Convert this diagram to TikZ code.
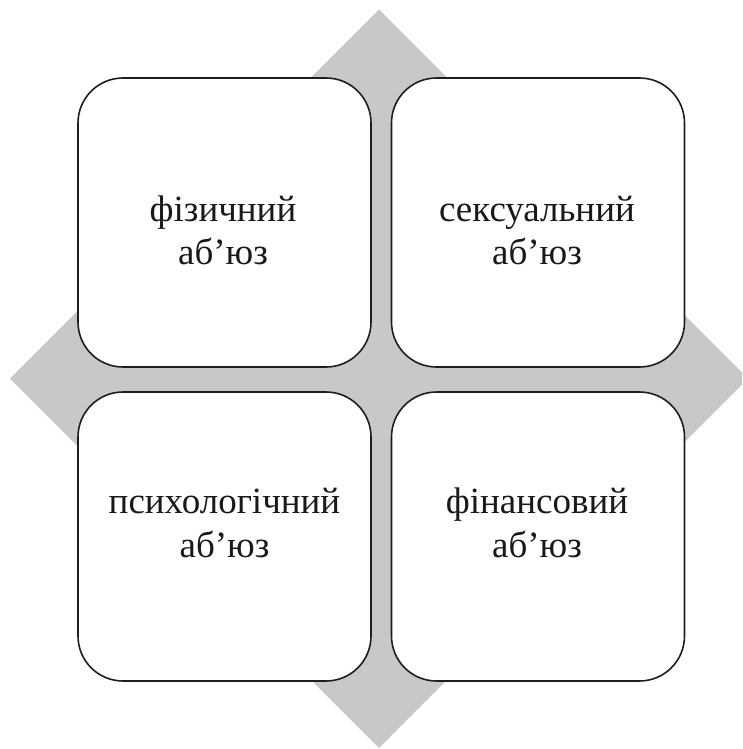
\documentclass[tikz,border=0pt]{standalone}
\usepackage{fontspec}
\setmainfont{Liberation Serif}
\definecolor{diamondgray}{HTML}{C8C8C8}
\definecolor{edgeblack}{HTML}{1E1E1E}
\tikzset{
  quadbox/.style={draw=edgeblack, line width=1.6pt, fill=white, rounded corners=45pt,
    minimum width=293pt, minimum height=289pt, inner sep=0pt},
  linetext/.style={anchor=base, inner sep=0pt, text=black!90,
    font=\fontsize{37}{44}\selectfont},
  diamondfill/.style={fill=diamondgray, draw=none}
}
\begin{document}
\begin{tikzpicture}[x=1pt,y=-1pt]
\useasboundingbox (0,0) rectangle (742,749);
\clip (0,0) rectangle (742,749);
\fill[diamondfill] (379,9.5) -- (748,378.5) -- (379,748) -- (10,378.5) -- cycle;
\node[quadbox] (tl) at (224.5,222.5) {};
\node[quadbox] (tr) at (538,222.5) {};
\node[quadbox] (bl) at (224.5,536.5) {};
\node[quadbox] (br) at (538,536.5) {};
\node[linetext] (tla) at (223,221.5) {фізичний};
\node[linetext] (tlb) at (223,264.5) {аб’юз};
\node[linetext] (tra) at (537,221.5) {сексуальний};
\node[linetext] (trb) at (537,264.5) {аб’юз};
\node[linetext] (bla) at (224.5,513.5) {психологічний};
\node[linetext] (blb) at (224.5,557.5) {аб’юз};
\node[linetext] (bra) at (537,513.5) {фінансовий};
\node[linetext] (brb) at (537,557.5) {аб’юз};
\end{tikzpicture}
\end{document}
